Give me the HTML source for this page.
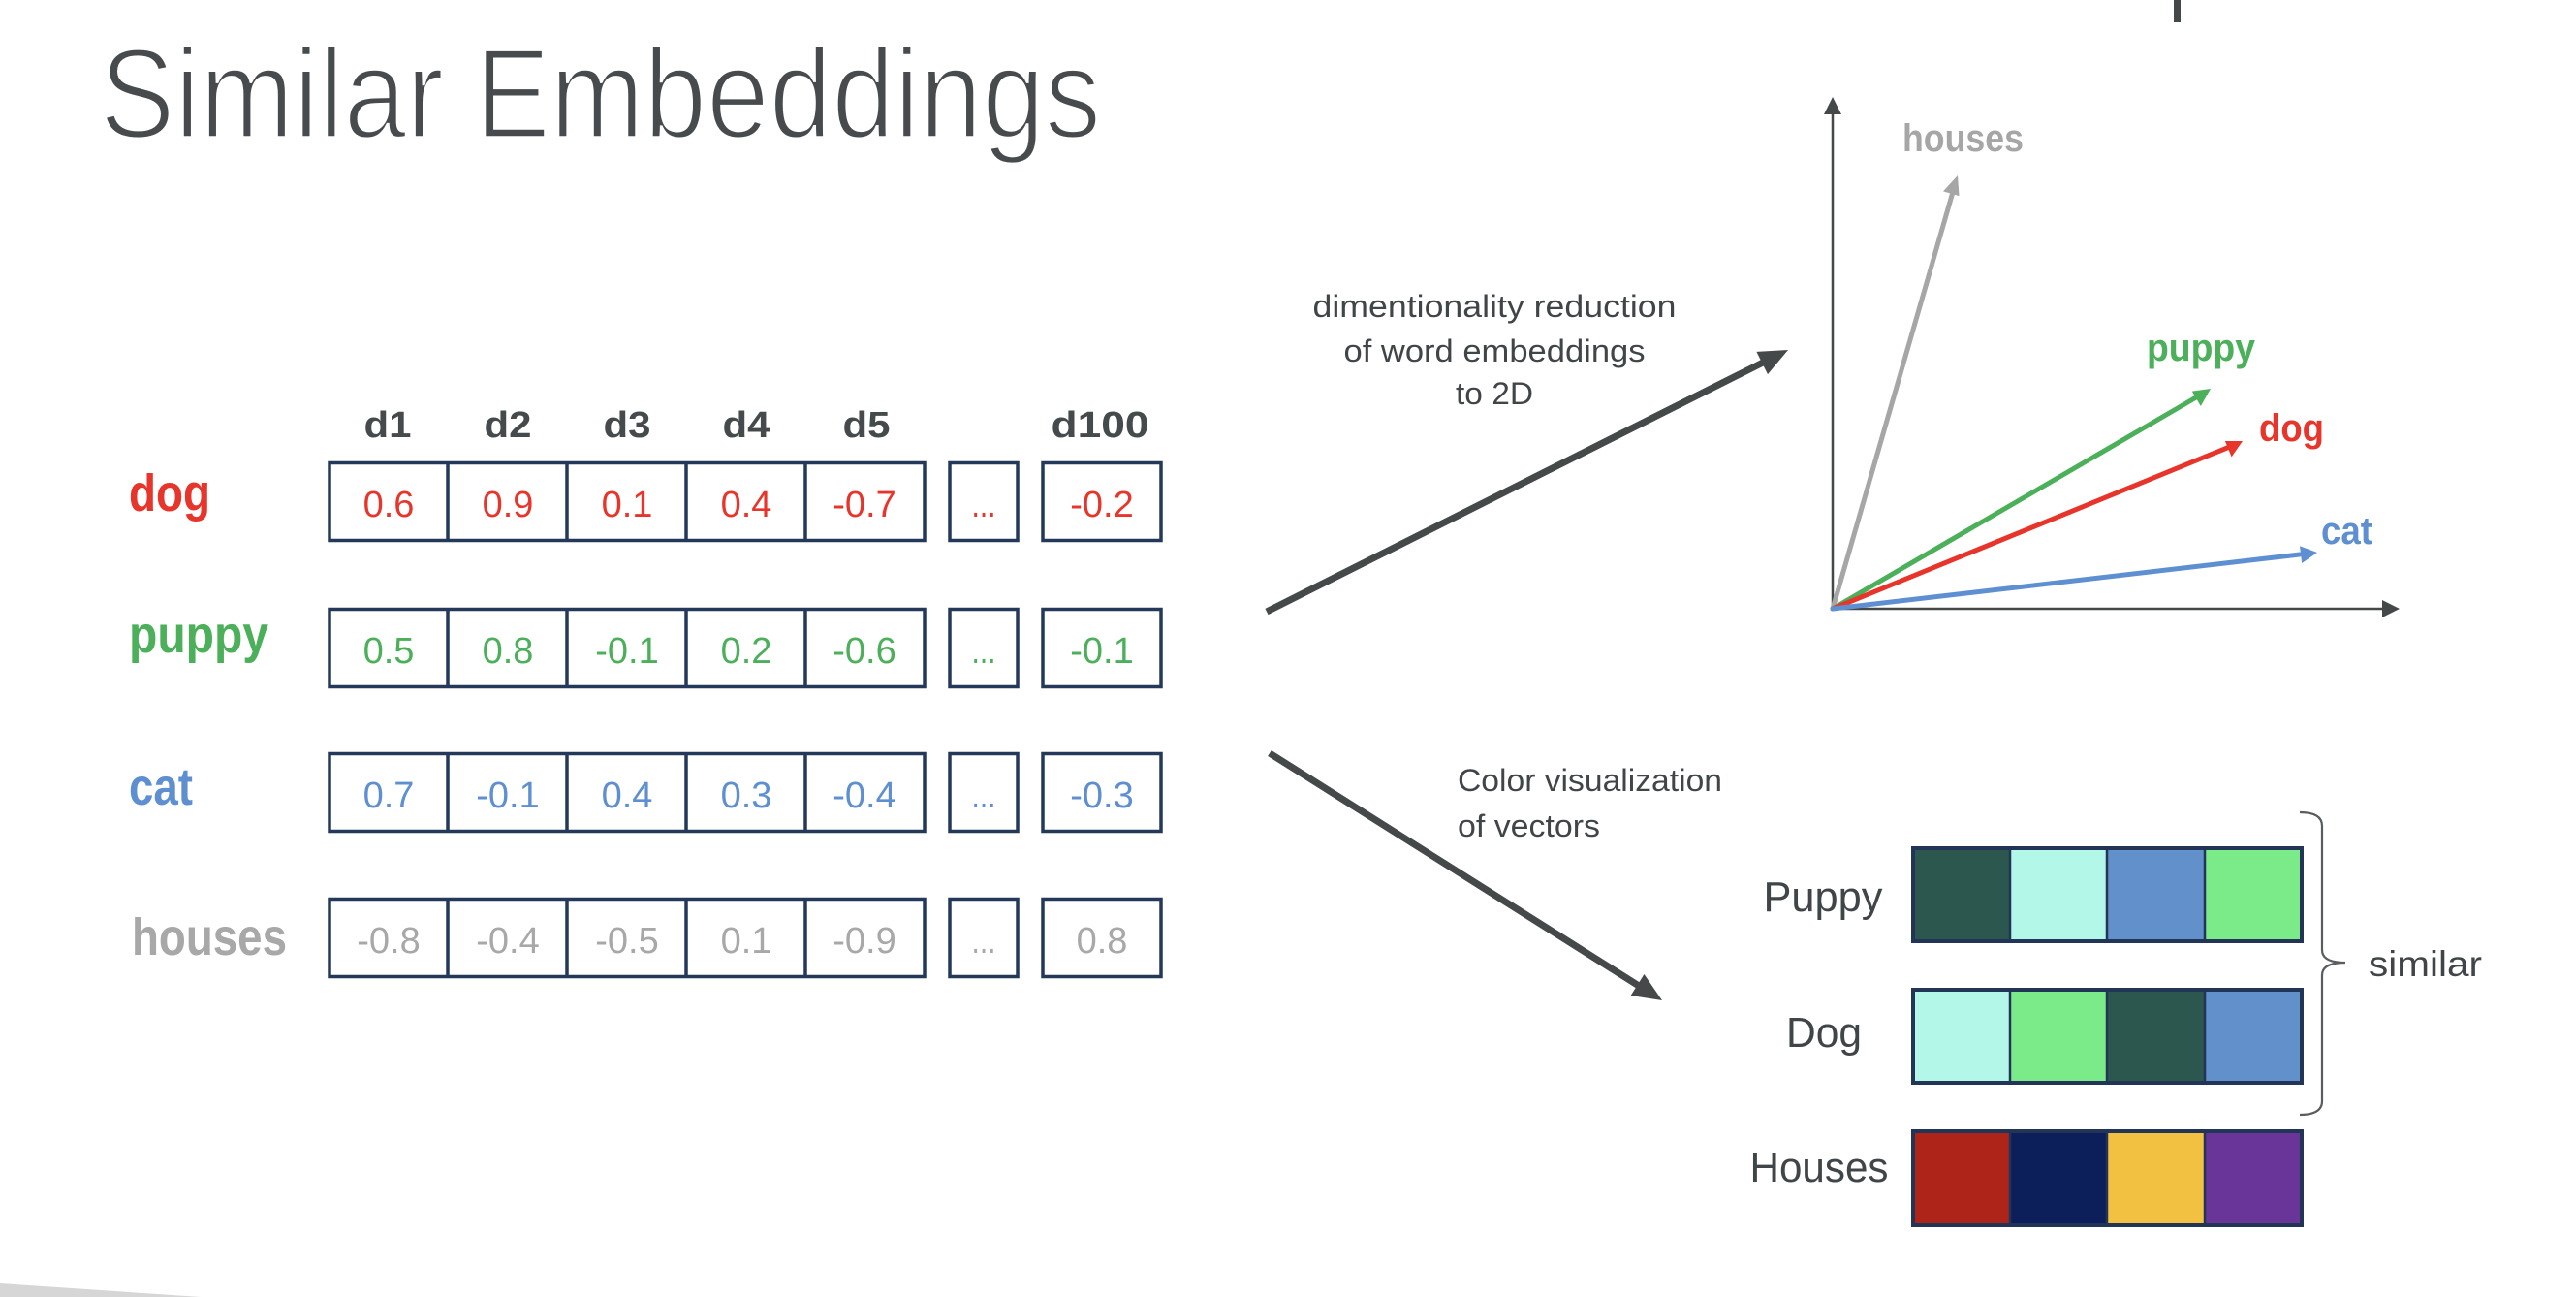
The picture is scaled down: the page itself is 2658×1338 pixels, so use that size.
<!DOCTYPE html>
<html>
<head>
<meta charset="utf-8">
<style>
  html, body { margin: 0; padding: 0; background: #ffffff; }
  body { width: 2658px; height: 1338px; overflow: hidden; }
  svg { display: block; }
  text { font-family: "Liberation Sans", sans-serif; }
</style>
</head>
<body>
<svg width="2658" height="1338" viewBox="0 0 2658 1338" xmlns="http://www.w3.org/2000/svg">
  <rect x="0" y="0" width="2658" height="1338" fill="#ffffff"/>

  <!-- decorations -->
  <rect x="2243" y="0" width="7" height="23" fill="#454849"/>
  <polygon points="0,1324 207,1338 0,1338" fill="#d6d6d6"/>

  <!-- title -->
  <text x="103" y="142" font-size="132" fill="#474b4d" stroke="#ffffff" stroke-width="3.5" textLength="1033" lengthAdjust="spacingAndGlyphs">Similar Embeddings</text>

  <!-- headers -->
  <g font-weight="bold" font-size="38" fill="#454a4c" text-anchor="middle">
    <text x="400" y="451" textLength="49" lengthAdjust="spacingAndGlyphs">d1</text>
    <text x="524" y="451" textLength="49" lengthAdjust="spacingAndGlyphs">d2</text>
    <text x="647" y="451" textLength="49" lengthAdjust="spacingAndGlyphs">d3</text>
    <text x="770" y="451" textLength="49" lengthAdjust="spacingAndGlyphs">d4</text>
    <text x="894" y="451" textLength="49" lengthAdjust="spacingAndGlyphs">d5</text>
    <text x="1135" y="451" textLength="101" lengthAdjust="spacingAndGlyphs">d100</text>
  </g>

  <!-- row labels -->
  <g font-weight="bold" font-size="54">
    <text x="133" y="527" fill="#e8352b" textLength="84" lengthAdjust="spacingAndGlyphs">dog</text>
    <text x="133" y="673" fill="#4caf5a" textLength="144" lengthAdjust="spacingAndGlyphs">puppy</text>
    <text x="133" y="830" fill="#5e8fd0" textLength="66" lengthAdjust="spacingAndGlyphs">cat</text>
    <text x="136" y="985" fill="#a8a8a8" textLength="160" lengthAdjust="spacingAndGlyphs">houses</text>
  </g>

  <!-- table boxes -->
  <g fill="none" stroke="#24385a" stroke-width="3.5">
    <g>
      <rect x="340" y="477.5" width="614" height="80"/>
      <line x1="462" y1="477.5" x2="462" y2="557.5"/>
      <line x1="585" y1="477.5" x2="585" y2="557.5"/>
      <line x1="708" y1="477.5" x2="708" y2="557.5"/>
      <line x1="831" y1="477.5" x2="831" y2="557.5"/>
      <rect x="980" y="477.5" width="70" height="80"/>
      <rect x="1076" y="477.5" width="122" height="80"/>
    </g>
    <g>
      <rect x="340" y="628.5" width="614" height="80"/>
      <line x1="462" y1="628.5" x2="462" y2="708.5"/>
      <line x1="585" y1="628.5" x2="585" y2="708.5"/>
      <line x1="708" y1="628.5" x2="708" y2="708.5"/>
      <line x1="831" y1="628.5" x2="831" y2="708.5"/>
      <rect x="980" y="628.5" width="70" height="80"/>
      <rect x="1076" y="628.5" width="122" height="80"/>
    </g>
    <g>
      <rect x="340" y="777.5" width="614" height="80"/>
      <line x1="462" y1="777.5" x2="462" y2="857.5"/>
      <line x1="585" y1="777.5" x2="585" y2="857.5"/>
      <line x1="708" y1="777.5" x2="708" y2="857.5"/>
      <line x1="831" y1="777.5" x2="831" y2="857.5"/>
      <rect x="980" y="777.5" width="70" height="80"/>
      <rect x="1076" y="777.5" width="122" height="80"/>
    </g>
    <g>
      <rect x="340" y="927.5" width="614" height="80"/>
      <line x1="462" y1="927.5" x2="462" y2="1007.5"/>
      <line x1="585" y1="927.5" x2="585" y2="1007.5"/>
      <line x1="708" y1="927.5" x2="708" y2="1007.5"/>
      <line x1="831" y1="927.5" x2="831" y2="1007.5"/>
      <rect x="980" y="927.5" width="70" height="80"/>
      <rect x="1076" y="927.5" width="122" height="80"/>
    </g>
  </g>

  <!-- values -->
  <g font-size="38" text-anchor="middle">
    <g fill="#e8352b">
      <text x="401" y="533">0.6</text>
      <text x="524" y="533">0.9</text>
      <text x="647" y="533">0.1</text>
      <text x="770" y="533">0.4</text>
      <text x="892" y="533">-0.7</text>
      <text x="1015" y="533" textLength="25" lengthAdjust="spacingAndGlyphs">...</text>
      <text x="1137" y="533">-0.2</text>
    </g>
    <g fill="#4caf5a">
      <text x="401" y="684">0.5</text>
      <text x="524" y="684">0.8</text>
      <text x="647" y="684">-0.1</text>
      <text x="770" y="684">0.2</text>
      <text x="892" y="684">-0.6</text>
      <text x="1015" y="684" textLength="25" lengthAdjust="spacingAndGlyphs">...</text>
      <text x="1137" y="684">-0.1</text>
    </g>
    <g fill="#5e8fd0">
      <text x="401" y="833">0.7</text>
      <text x="524" y="833">-0.1</text>
      <text x="647" y="833">0.4</text>
      <text x="770" y="833">0.3</text>
      <text x="892" y="833">-0.4</text>
      <text x="1015" y="833" textLength="25" lengthAdjust="spacingAndGlyphs">...</text>
      <text x="1137" y="833">-0.3</text>
    </g>
    <g fill="#a8a8a8">
      <text x="401" y="983">-0.8</text>
      <text x="524" y="983">-0.4</text>
      <text x="647" y="983">-0.5</text>
      <text x="770" y="983">0.1</text>
      <text x="892" y="983">-0.9</text>
      <text x="1015" y="983" textLength="25" lengthAdjust="spacingAndGlyphs">...</text>
      <text x="1137" y="983">0.8</text>
    </g>
  </g>

  <!-- big arrows -->
  <g stroke="#45494a" stroke-width="7" fill="none">
    <line x1="1307" y1="631" x2="1820" y2="373.5"/>
    <line x1="1310" y1="777" x2="1691" y2="1017"/>
  </g>
  <polygon points="1845,361 1824,386.1 1812.4,362.9" fill="#45494a"/>
  <polygon points="1715,1032 1682.7,1027 1696.5,1005" fill="#45494a"/>

  <!-- arrow captions -->
  <g font-size="32" fill="#404548">
    <text x="1542" y="327" text-anchor="middle" textLength="375" lengthAdjust="spacingAndGlyphs">dimentionality reduction</text>
    <text x="1542" y="373" text-anchor="middle" textLength="311" lengthAdjust="spacingAndGlyphs">of word embeddings</text>
    <text x="1542" y="417" text-anchor="middle" textLength="80" lengthAdjust="spacingAndGlyphs">to 2D</text>
    <text x="1504" y="816" textLength="273" lengthAdjust="spacingAndGlyphs">Color visualization</text>
    <text x="1504" y="863" textLength="147" lengthAdjust="spacingAndGlyphs">of vectors</text>
  </g>

  <!-- 2D chart axes -->
  <g stroke="#454849" stroke-width="2.5" fill="none">
    <line x1="1891" y1="629" x2="1891" y2="116"/>
    <line x1="1890" y1="628" x2="2460" y2="628"/>
  </g>
  <polygon points="1891,100 1882,118 1900,118" fill="#454849"/>
  <polygon points="2476,628 2458,619 2458,637" fill="#454849"/>

  <!-- vectors -->
  <g stroke-width="5" fill="none" stroke-linecap="round">
    <line x1="1891" y1="628" x2="2015" y2="198" stroke="#a6a6a6"/>
    <line x1="1891" y1="628" x2="2266" y2="410" stroke="#4caf5a"/>
    <line x1="1891" y1="628" x2="2298" y2="462" stroke="#e8352b"/>
    <line x1="1891" y1="628" x2="2373" y2="572" stroke="#5e8fd0"/>
  </g>
  <polygon points="2020,181 2021.5,202.1 2005,197.4" fill="#a6a6a6"/>
  <polygon points="2281,401 2270.8,419 2261.8,403.6" fill="#4caf5a"/>
  <polygon points="2314,455 2302.6,471.4 2295.9,455" fill="#e8352b"/>
  <polygon points="2391,570 2375.2,581 2373,563.3" fill="#5e8fd0"/>

  <!-- vector labels -->
  <g font-weight="bold" font-size="40">
    <text x="1963" y="156" fill="#a6a6a6" textLength="125" lengthAdjust="spacingAndGlyphs">houses</text>
    <text x="2215" y="372" fill="#4caf5a" textLength="112" lengthAdjust="spacingAndGlyphs">puppy</text>
    <text x="2331" y="455" fill="#e8352b" textLength="67" lengthAdjust="spacingAndGlyphs">dog</text>
    <text x="2395" y="561" fill="#5e8fd0" textLength="53" lengthAdjust="spacingAndGlyphs">cat</text>
  </g>

  <!-- color bars -->
  <g stroke="none">
    <rect x="1972" y="873" width="102" height="100" fill="#2c574e"/>
    <rect x="2074" y="873" width="100" height="100" fill="#b2f7e8"/>
    <rect x="2174" y="873" width="101" height="100" fill="#6190cb"/>
    <rect x="2275" y="873" width="102" height="100" fill="#7aeb88"/>

    <rect x="1972" y="1019" width="102" height="100" fill="#b2f7e8"/>
    <rect x="2074" y="1019" width="100" height="100" fill="#7aeb88"/>
    <rect x="2174" y="1019" width="101" height="100" fill="#2c574e"/>
    <rect x="2275" y="1019" width="102" height="100" fill="#6190cb"/>

    <rect x="1972" y="1165" width="102" height="101" fill="#ae2418"/>
    <rect x="2074" y="1165" width="100" height="101" fill="#0c1f5a"/>
    <rect x="2174" y="1165" width="101" height="101" fill="#f3c142"/>
    <rect x="2275" y="1165" width="102" height="101" fill="#6a3598"/>
  </g>
  <g fill="none" stroke="#223556">
    <rect x="1974" y="875" width="401" height="96" stroke-width="4"/>
    <rect x="1974" y="1021" width="401" height="96" stroke-width="4"/>
    <rect x="1974" y="1167" width="401" height="97" stroke-width="4"/>
    <g stroke-width="2.5">
      <line x1="2074" y1="873" x2="2074" y2="973"/>
      <line x1="2174" y1="873" x2="2174" y2="973"/>
      <line x1="2275" y1="873" x2="2275" y2="973"/>
      <line x1="2074" y1="1019" x2="2074" y2="1119"/>
      <line x1="2174" y1="1019" x2="2174" y2="1119"/>
      <line x1="2275" y1="1019" x2="2275" y2="1119"/>
      <line x1="2074" y1="1165" x2="2074" y2="1266"/>
      <line x1="2174" y1="1165" x2="2174" y2="1266"/>
      <line x1="2275" y1="1165" x2="2275" y2="1266"/>
    </g>
  </g>

  <!-- color bar labels -->
  <g font-size="44" fill="#404548" text-anchor="middle">
    <text x="1881" y="940" textLength="123" lengthAdjust="spacingAndGlyphs">Puppy</text>
    <text x="1882" y="1080" textLength="78" lengthAdjust="spacingAndGlyphs">Dog</text>
    <text x="1877" y="1219" textLength="143" lengthAdjust="spacingAndGlyphs">Houses</text>
  </g>

  <!-- brace -->
  <path d="M2373,838 Q2396,838 2396,852 L2396,980 Q2396,993 2420,993 Q2396,993 2396,1006 L2396,1136 Q2396,1150 2373,1150" fill="none" stroke="#5a5d5f" stroke-width="2.2"/>
  <text x="2444" y="1007" font-size="37" fill="#404548" textLength="117" lengthAdjust="spacingAndGlyphs">similar</text>
</svg>
</body>
</html>
